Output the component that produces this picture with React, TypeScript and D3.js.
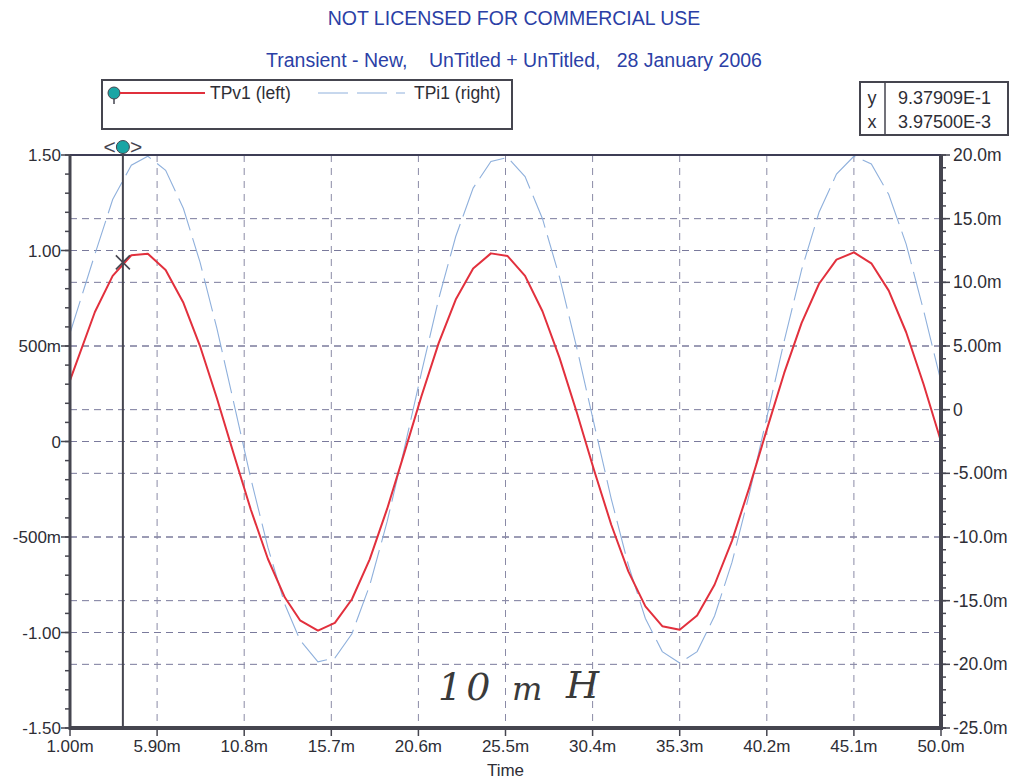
import React from "react";
import * as d3 from "d3";

const timeMs = [1.0, 2.4, 3.4, 4.45, 5.38, 6.38, 7.38, 8.31, 9.26, 10.22, 11.17, 12.13, 13.09, 13.94, 14.95, 15.9, 16.86, 17.86, 18.84, 19.8, 20.77, 21.74, 22.7, 23.68, 24.68, 25.62, 26.6, 27.58, 28.54, 29.52, 30.48, 31.45, 32.41, 33.37, 34.32, 35.3, 36.28, 37.26, 38.24, 39.22, 40.2, 41.18, 42.16, 43.14, 44.12, 45.1, 46.08, 47.06, 48.04, 49.02, 50.0];
const tpv1 = [0.32, 0.678, 0.867, 0.975, 0.983, 0.898, 0.726, 0.501, 0.228, -0.068, -0.356, -0.614, -0.817, -0.936, -0.99, -0.95, -0.826, -0.617, -0.353, -0.062, 0.237, 0.515, 0.743, 0.906, 0.985, 0.971, 0.867, 0.682, 0.438, 0.149, -0.149, -0.436, -0.68, -0.863, -0.967, -0.986, -0.911, -0.75, -0.52, -0.24, 0.062, 0.359, 0.621, 0.826, 0.952, 0.99, 0.933, 0.79, 0.572, 0.3, 0.0];
const tpi1mA = [6.0, 12.2, 16.5, 19.2, 19.9, 18.8, 15.8, 11.6, 6.4, 0.5, -5.4, -10.8, -15.3, -18.1, -19.8, -19.5, -17.6, -13.8, -8.8, -3.1, 2.9, 8.7, 13.6, 17.4, 19.5, 19.8, 18.3, 15.0, 10.4, 4.8, -1.1, -7.0, -12.2, -16.4, -19.0, -19.9, -19.0, -16.2, -12.0, -6.6, -0.6, 5.4, 11.0, 15.5, 18.5, 19.9, 19.3, 16.9, 13.0, 7.8, 2.2];

const xTickValues = [1.0, 5.9, 10.8, 15.7, 20.6, 25.5, 30.4, 35.3, 40.2, 45.1, 50.0];
const xTickLabels = ["1.00m", "5.90m", "10.8m", "15.7m", "20.6m", "25.5m", "30.4m", "35.3m", "40.2m", "45.1m", "50.0m"];
const leftTickValues = [-1.5, -1.0, -0.5, 0, 0.5, 1.0, 1.5];
const leftTickLabels = ["-1.50", "-1.00", "-500m", "0", "500m", "1.00", "1.50"];
const rightTickValues = [-25, -20, -15, -10, -5, 0, 5, 10, 15, 20];
const rightTickLabels = ["-25.0m", "-20.0m", "-15.0m", "-10.0m", "-5.00m", "0", "5.00m", "10.0m", "15.0m", "20.0m"];

const cursorX = 3.975;
const cursorY = 0.937909;
const cursorYLabel = "9.37909E-1";
const cursorXLabel = "3.97500E-3";

const titleText = "NOT LICENSED FOR COMMERCIAL USE";
const subtitleText = "Transient - New,    UnTitled + UnTitled,   28 January 2006";
const legendV = "TPv1 (left)";
const legendI = "TPi1 (right)";
const noteParts = ["10", "m", "H"];

export default function App() {
  const L = 70, R = 941, T = 155, B = 728;
  const x = d3.scaleLinear().domain([1, 50]).range([L, R]);
  const yL = d3.scaleLinear().domain([-1.5, 1.5]).range([B, T]);
  const yR = d3.scaleLinear().domain([-25, 20]).range([B, T]);

  const lineV = d3.line<number>().x((_, i) => x(timeMs[i])).y((d) => yL(d));
  const lineI = d3.line<number>().x((_, i) => x(timeMs[i])).y((d) => yR(d));

  const font = "Arial, 'Liberation Sans', sans-serif";
  const txt = "#2e2e36";
  const blue = "#2b3fa6";
  const gridC = "#7a7a9c";
  const axisC = "#45454f";

  const leftMinor = d3.range(-1.5, 1.5001, 0.1);
  const rightMinor = d3.range(-25, 20.001, 1);

  const cx = x(cursorX);
  const cy = yL(cursorY);

  return (
    <svg width={1028} height={783} style={{ position: "absolute", left: 0, top: 0, background: "#fff" }} fontFamily={font}>
      <rect x={0} y={0} width={1028} height={783} fill="#fff" />
      <text x={514} y={25} textAnchor="middle" fontSize={19.5} fill={blue}>{titleText}</text>
      <text x={514} y={67} textAnchor="middle" fontSize={19.5} fill={blue} style={{ whiteSpace: "pre" }}>{subtitleText}</text>

      {/* legend */}
      <rect x={102} y={80} width={410} height={49} fill="none" stroke={axisC} strokeWidth={2} />
      <line x1={114} y1={93} x2={114} y2={104} stroke={axisC} strokeWidth={1.5} />
      <circle cx={114} cy={93} r={6} fill="#1aa5a5" stroke={axisC} strokeWidth={1} />
      <line x1={120} y1={93} x2={205} y2={93} stroke="#e0303c" strokeWidth={2} />
      <text x={210} y={99} fontSize={17.5} fill={txt}>{legendV}</text>
      <line x1={318} y1={93} x2={405} y2={93} stroke="#8fb0dc" strokeWidth={1} strokeDasharray="30,9" />
      <text x={414} y={99} fontSize={17.5} fill={txt}>{legendI}</text>

      {/* cursor readout */}
      <rect x={860} y={82} width={148} height={53} fill="none" stroke={axisC} strokeWidth={2} />
      <line x1={885} y1={82} x2={885} y2={135} stroke={axisC} strokeWidth={1.5} />
      <text x={872} y={104} textAnchor="middle" fontSize={18} fill={txt}>y</text>
      <text x={872} y={128} textAnchor="middle" fontSize={18} fill={txt}>x</text>
      <text x={898} y={104} fontSize={18} fill={txt}>{cursorYLabel}</text>
      <text x={898} y={128} fontSize={18} fill={txt}>{cursorXLabel}</text>

      {/* grid */}
      <g stroke={gridC} strokeWidth={1} strokeDasharray="7,5">
        {leftTickValues.filter((v) => v > -1.5 && v < 1.5).map((v) => (
          <line key={"gl" + v} x1={L} x2={R} y1={yL(v)} y2={yL(v)} />
        ))}
        {rightTickValues.filter((v) => v > -25 && v < 20).map((v) => (
          <line key={"gr" + v} x1={L} x2={R} y1={yR(v)} y2={yR(v)} />
        ))}
      </g>
      <g stroke="#8a8aa6" strokeWidth={1} strokeDasharray="7,6">
        {xTickValues.filter((v) => v > 1 && v < 50).map((v) => (
          <line key={"gx" + v} x1={x(v)} x2={x(v)} y1={T} y2={B} />
        ))}
      </g>

      {/* series */}
      <path d={lineI(tpi1mA) || ""} fill="none" stroke="#8fb0dc" strokeWidth={1.1} strokeDasharray="34,8" />
      <path d={lineV(tpv1) || ""} fill="none" stroke="#e2303d" strokeWidth={2} strokeLinejoin="round" />

      {/* frame */}
      <line x1={L} x2={R} y1={T} y2={T} stroke="#3d3d55" strokeWidth={2} />
      <line x1={L - 1} x2={R + 2} y1={B} y2={B} stroke={axisC} strokeWidth={4} />
      <line x1={L} x2={L} y1={T} y2={B + 2} stroke={axisC} strokeWidth={3} />
      <line x1={R} x2={R} y1={T} y2={B + 2} stroke={axisC} strokeWidth={4} />

      {/* left ticks */}
      {leftMinor.map((v, i) => (
        <line key={"lm" + i} x1={L - 5} x2={L} y1={yL(v)} y2={yL(v)} stroke={axisC} strokeWidth={1.5} />
      ))}
      {leftTickValues.map((v, i) => (
        <g key={"lt" + i}>
          <line x1={L - 9} x2={L} y1={yL(v)} y2={yL(v)} stroke={axisC} strokeWidth={1.5} />
          <text x={L - 9} y={yL(v) + 6} textAnchor="end" fontSize={17} fill={txt}>{leftTickLabels[i]}</text>
        </g>
      ))}

      {/* right ticks */}
      {rightMinor.map((v, i) => (
        <line key={"rm" + i} x1={R} x2={R + 5} y1={yR(v)} y2={yR(v)} stroke={axisC} strokeWidth={1.5} />
      ))}
      {rightTickValues.map((v, i) => (
        <g key={"rt" + i}>
          <line x1={R} x2={R + 9} y1={yR(v)} y2={yR(v)} stroke={axisC} strokeWidth={1.5} />
          <text x={R + 12} y={yR(v) + 6} textAnchor="start" fontSize={17.5} fill={txt}>{rightTickLabels[i]}</text>
        </g>
      ))}

      {/* x ticks */}
      {xTickValues.map((v, i) => (
        <g key={"xt" + i}>
          <line x1={x(v)} x2={x(v)} y1={B} y2={B + 8} stroke={axisC} strokeWidth={1.5} />
          <text x={x(v)} y={B + 24} textAnchor="middle" fontSize={17} fill={txt}>{xTickLabels[i]}</text>
        </g>
      ))}
      <text x={(L + R) / 2} y={776} textAnchor="middle" fontSize={17} fill={txt}>Time</text>

      {/* cursor */}
      <line x1={cx} x2={cx} y1={148} y2={B} stroke={axisC} strokeWidth={2} />
      <circle cx={cx} cy={147} r={6.5} fill="#1aa5a5" stroke={axisC} strokeWidth={1} />
      <text x={cx - 7} y={154} textAnchor="end" fontSize={21} fill={axisC}>&lt;</text>
      <text x={cx + 7} y={154} textAnchor="start" fontSize={21} fill={axisC}>&gt;</text>
      <line x1={cx - 7} x2={cx + 7} y1={cy - 7} y2={cy + 7} stroke={axisC} strokeWidth={1.6} />
      <line x1={cx - 7} x2={cx + 7} y1={cy + 7} y2={cy - 7} stroke={axisC} strokeWidth={1.6} />

      {/* handwritten note */}
      <g fill="#3a3a3a" fontFamily="'DejaVu Serif', serif" fontStyle="italic" fontWeight={300}>
        <text x={438} y={700} fontSize={38} letterSpacing={4}>{noteParts[0]}</text>
        <text x={512} y={700} fontSize={32}>{noteParts[1]}</text>
        <text x={566} y={698} fontSize={38}>{noteParts[2]}</text>
      </g>
    </svg>
  );
}
